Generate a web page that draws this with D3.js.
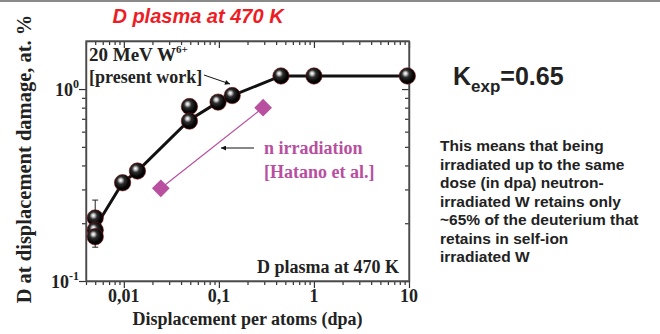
<!DOCTYPE html>
<html>
<head>
<meta charset="utf-8">
<script src="https://cdn.jsdelivr.net/npm/d3@7"></script>
<style>
  html, body { margin: 0; padding: 0; background: #fff; }
  svg { display: block; }
  .serif { font-family: "Liberation Serif", "Times New Roman", serif; font-weight: bold; }
  .sans { font-family: "Liberation Sans", Arial, sans-serif; font-weight: bold; }
</style>
</head>
<body>
<div id="chart"></div>
<script>
// Self-ion (20 MeV W6+) data: dpa vs retained D (at. %)
const ionDpa = [0.005, 0.005, 0.005, 0.0097, 0.0139, 0.049, 0.049, 0.098, 0.138, 0.45, 1.0, 9.6];
const ionD   = [0.213, 0.184, 0.170, 0.325, 0.374, 0.811, 0.681, 0.855, 0.925, 1.17, 1.17, 1.17];
// error bars (low, high) for the points that show them
const ionErrLow  = [0.150, null, null, null, 0.355, 0.640, null, null, null, null, null, null];
const ionErrHigh = [0.264, null, null, null, null, null, null, null, null, null, null, null];

// guide line through the self-ion data
const fitDpa = [0.005, 0.0097, 0.0139, 0.049, 0.098, 0.138, 0.45, 1.0, 9.6];
const fitD   = [0.190, 0.325, 0.374, 0.690, 0.855, 0.925, 1.17, 1.17, 1.17];

// neutron irradiation [Hatano et al.]
const nDpa = [0.0245, 0.292];
const nD   = [0.304, 0.80];

// tick labels
const xMajor = [0.01, 0.1, 1, 10];
const xTickLabels = ["0,01", "0,1", "1", "10"];
const yMajor = [0.1, 1];
const yTickExp = ["-1", "0"];

const width = 660, height = 334;
const plot = { left: 86, right: 409, top: 41, bottom: 281 };

const svg = d3.select("#chart").append("svg")
  .attr("width", width).attr("height", height);

// grey rule across the top
svg.append("rect").attr("x", 0).attr("y", 0).attr("width", width).attr("height", 2).attr("fill", "#8a8a8a");

const x = d3.scaleLog().domain([0.004, 10]).range([plot.left, plot.right]);
const y = d3.scaleLog().domain([0.1, 1.78]).range([plot.bottom, plot.top]);

const defs = svg.append("defs");
const grad = defs.append("radialGradient").attr("id", "ball")
  .attr("cx", "42%").attr("cy", "40%").attr("r", "60%").attr("fx", "38%").attr("fy", "34%");
grad.append("stop").attr("offset", "0%").attr("stop-color", "#ffffff");
grad.append("stop").attr("offset", "14%").attr("stop-color", "#d0d0d0");
grad.append("stop").attr("offset", "38%").attr("stop-color", "#2e2e2e");
grad.append("stop").attr("offset", "75%").attr("stop-color", "#050505");
grad.append("stop").attr("offset", "100%").attr("stop-color", "#000000");

defs.append("marker").attr("id", "arrow")
  .attr("viewBox", "0 0 10 10").attr("refX", 10).attr("refY", 5)
  .attr("markerWidth", 7).attr("markerHeight", 5).attr("orient", "auto")
  .attr("markerUnits", "userSpaceOnUse")
  .append("path").attr("d", "M0,0 L10,5 L0,10 Z").attr("fill", "#111");

// --- axes (log minor ticks, mirrored) ---
const xTicks = x.ticks().filter(v => v >= 0.004 && v <= 10);
const yTicks = y.ticks().filter(v => v >= 0.1 && v <= 1.78);
const isMajor = v => Math.abs(Math.log10(v) - Math.round(Math.log10(v))) < 1e-6;

const axisColor = "#333";
const axes = svg.append("g").attr("stroke", axisColor).attr("stroke-width", 1.2);

// bottom: outward ticks
axes.append("g").attr("transform", `translate(0,${plot.bottom})`)
  .call(d3.axisBottom(x).tickValues(xTicks).tickFormat("").tickSizeOuter(0).tickSizeInner(4))
  .call(g => g.selectAll(".tick line").filter(d => isMajor(d)).attr("y2", 7));
// top: inward ticks
axes.append("g").attr("transform", `translate(0,${plot.top})`)
  .call(d3.axisBottom(x).tickValues(xTicks).tickFormat("").tickSizeOuter(0).tickSizeInner(4))
  .call(g => g.selectAll(".tick line").filter(d => isMajor(d)).attr("y2", 7));
// left: outward
axes.append("g").attr("transform", `translate(${plot.left},0)`)
  .call(d3.axisLeft(y).tickValues(yTicks).tickFormat("").tickSizeOuter(0).tickSizeInner(4))
  .call(g => g.selectAll(".tick line").filter(d => isMajor(d)).attr("x2", -7));
// right: inward
axes.append("g").attr("transform", `translate(${plot.right},0)`)
  .call(d3.axisLeft(y).tickValues(yTicks).tickFormat("").tickSizeOuter(0).tickSizeInner(4))
  .call(g => g.selectAll(".tick line").filter(d => isMajor(d)).attr("x2", -7));
axes.selectAll(".domain").attr("stroke", axisColor).attr("stroke-width", 1.4);
axes.selectAll(".tick line").attr("stroke", axisColor);

// frame
svg.append("rect").attr("x", plot.left).attr("y", plot.top)
  .attr("width", plot.right - plot.left).attr("height", plot.bottom - plot.top)
  .attr("fill", "none").attr("stroke", "#555").attr("stroke-width", 1.4);

// x tick labels
svg.append("g").attr("class", "serif").selectAll("text")
  .data(xMajor).join("text")
  .attr("x", d => x(d)).attr("y", plot.bottom + 21)
  .attr("text-anchor", "middle").attr("font-size", 18).attr("fill", "#222")
  .text((d, i) => xTickLabels[i]);

// y tick labels 10^n
const yl = svg.append("g").attr("class", "serif").selectAll("text")
  .data(yMajor).join("text")
  .attr("x", plot.left - 7).attr("y", d => y(d) + 7)
  .attr("text-anchor", "end").attr("font-size", 18).attr("fill", "#222");
yl.append("tspan").text("10");
yl.append("tspan").attr("dy", -8).attr("font-size", 12).text((d, i) => yTickExp[i]);

// axis titles
svg.append("text").attr("class", "serif")
  .attr("x", (plot.left + plot.right) / 2).attr("y", 325)
  .attr("text-anchor", "middle").attr("font-size", 18).attr("fill", "#222")
  .text("Displacement per atoms (dpa)");
svg.append("text").attr("class", "serif")
  .attr("transform", `translate(31,159) rotate(-90)`)
  .attr("text-anchor", "middle").attr("font-size", 20.5).attr("fill", "#222")
  .text("D at displacement damage, at. %");

// title
svg.append("text").attr("class", "sans")
  .attr("x", 198).attr("y", 23).attr("text-anchor", "middle")
  .attr("font-size", 20).attr("font-style", "italic").attr("fill", "#ee1c24")
  .text("D plasma at 470 K");

// neutron line + diamonds
const nColor = "#b8509f";
svg.append("path")
  .datum(nDpa.map((d, i) => [d, nD[i]]))
  .attr("fill", "none").attr("stroke", nColor).attr("stroke-width", 1.2)
  .attr("d", d3.line().x(d => x(d[0])).y(d => y(d[1])));
svg.append("g").selectAll("path")
  .data(nDpa.map((d, i) => [d, nD[i]])).join("path")
  .attr("transform", d => `translate(${x(d[0])},${y(d[1])})`)
  .attr("d", d3.symbol(d3.symbolDiamond2, 200))
  .attr("fill", nColor);

// self-ion guide line
svg.append("path")
  .datum(fitDpa.map((d, i) => [d, fitD[i]]))
  .attr("fill", "none").attr("stroke", "#111").attr("stroke-width", 3)
  .attr("d", d3.line().x(d => x(d[0])).y(d => y(d[1])));

// error bars
const ion = ionDpa.map((d, i) => ({ dpa: d, v: ionD[i], lo: ionErrLow[i], hi: ionErrHigh[i] }));
const eb = svg.append("g").attr("stroke", "#222").attr("stroke-width", 1);
ion.filter(d => d.lo || d.hi).forEach(d => {
  const lo = d.lo || d.v, hi = d.hi || d.v;
  eb.append("line").attr("x1", x(d.dpa)).attr("x2", x(d.dpa)).attr("y1", y(lo)).attr("y2", y(hi));
  if (d.lo) eb.append("line").attr("x1", x(d.dpa) - 3).attr("x2", x(d.dpa) + 3).attr("y1", y(lo)).attr("y2", y(lo));
  if (d.hi) eb.append("line").attr("x1", x(d.dpa) - 3).attr("x2", x(d.dpa) + 3).attr("y1", y(hi)).attr("y2", y(hi));
});

// spheres
svg.append("g").selectAll("circle")
  .data(ion).join("circle")
  .attr("cx", d => x(d.dpa)).attr("cy", d => y(d.v)).attr("r", 8.2)
  .attr("fill", "url(#ball)").attr("stroke", "#7a1515").attr("stroke-width", 0.6);

// annotations inside plot
const ann = svg.append("g").attr("class", "serif").attr("font-size", 18);
const t1 = ann.append("text").attr("x", 89).attr("y", 61).attr("fill", "#222").attr("font-size", 19);
t1.append("tspan").text("20 MeV W");
t1.append("tspan").attr("dy", -8).attr("font-size", 11).text("6+");
ann.append("text").attr("x", 89).attr("y", 83).attr("fill", "#222").text("[present work]");
svg.append("line").attr("x1", 204).attr("y1", 75).attr("x2", 230).attr("y2", 84)
  .attr("stroke", "#111").attr("stroke-width", 1).attr("marker-end", "url(#arrow)");

ann.append("text").attr("x", 264).attr("y", 154).attr("fill", nColor).text("n irradiation");
ann.append("text").attr("x", 264).attr("y", 178).attr("fill", nColor).text("[Hatano et al.]");
svg.append("line").attr("x1", 254).attr("y1", 148).attr("x2", 221).attr("y2", 148)
  .attr("stroke", "#111").attr("stroke-width", 1).attr("marker-end", "url(#arrow)");

ann.append("text").attr("x", 399).attr("y", 273).attr("text-anchor", "end")
  .attr("fill", "#222").text("D plasma at 470 K");

// right-hand notes
const k = svg.append("text").attr("class", "sans").attr("x", 453).attr("y", 85)
  .attr("font-size", 25).attr("fill", "#222");
k.append("tspan").text("K");
k.append("tspan").attr("dy", 7).attr("font-size", 17).text("exp");
k.append("tspan").attr("dy", -7).text("=0.65");

const noteLines = [
  "This means that being",
  "irradiated up to the same",
  "dose (in dpa) neutron-",
  "irradiated W retains only",
  "~65% of the deuterium that",
  "retains in self-ion",
  "irradiated W"
];
svg.append("g").attr("class", "sans").selectAll("text")
  .data(noteLines).join("text")
  .attr("x", 440).attr("y", (d, i) => 151 + i * 18.5)
  .attr("font-size", 15.5).attr("fill", "#222")
  .text(d => d);
</script>
</body>
</html>
